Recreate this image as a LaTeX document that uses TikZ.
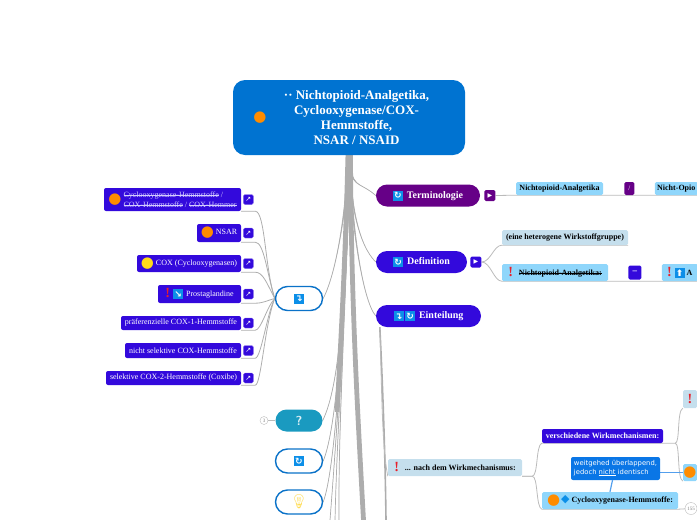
\documentclass[tikz,border=0pt]{standalone}
\usepackage{fontspec}
\setmainfont{Liberation Serif}
\newfontfamily\symfont{DejaVu Sans}
\newfontfamily\emojifont{Noto Emoji}
\usetikzlibrary{positioning,backgrounds}
\definecolor{rootblue}{HTML}{0073D1}
\definecolor{indigo}{HTML}{3309DC}
\definecolor{royal}{HTML}{660087}
\definecolor{skyfill}{HTML}{8FD6FB}
\definecolor{palefill}{HTML}{C5DFED}
\definecolor{notefill}{HTML}{0A76E6}
\definecolor{tealfill}{HTML}{1A9AC0}
\definecolor{ringblue}{HTML}{0A72C8}
\definecolor{limbgray}{HTML}{ADADAD}
\definecolor{twiggray}{HTML}{BBBBBB}
\definecolor{iconblue}{HTML}{0C8FE8}
\definecolor{dotorange}{HTML}{FF8C00}
\definecolor{dotyellow}{HTML}{FFD91A}
\definecolor{warnred}{HTML}{E8202A}
\definecolor{lavender}{HTML}{D4CCFF}
\definecolor{bulbyellow}{HTML}{FFDD55}
\newcommand{\sizedot}[2]{\textcolor{#1}{\raisebox{-.28em}{\symfont\fontsize{#2}{#2}\selectfont ●}}}
\newcommand{\orangedot}{\sizedot{dotorange}{15}}
\newcommand{\warnmark}{\textcolor{warnred}{\raisebox{-1pt}{\fontsize{14}{14}\selectfont\bfseries !}}}
\newcommand{\iconbox}[1]{{\setlength{\fboxsep}{0pt}\raisebox{-.8pt}{\colorbox{iconblue}{\makebox[10pt]{\rule[-1.6pt]{0pt}{10pt}\textcolor{white}{\symfont\fontsize{9}{9}\selectfont\bfseries #1}}}}}}
\newcommand{\strk}[1]{\leavevmode{\sbox0{#1}\rlap{\usebox0}\rule[.24em]{\wd0}{.3pt}}}
\newcommand{\limb}[4]{\filldraw[limbline] ([xshift=-#1pt]root.south) .. controls #2 and #3 .. (#4) .. controls #3 and #2 .. ([xshift=#1pt]root.south) -- cycle;}
\tikzset{
    leafbox/.style={fill=indigo, rounded corners=2pt, text=white, inner sep=0pt, font=\fontsize{8}{9.5}\selectfont, align=center},
    linkbtn/.style={fill=indigo, draw=indigo!60, rounded corners=1.5pt, text=white, inner sep=0pt, minimum width=10pt, minimum height=10pt, font=\symfont\fontsize{7}{7}\selectfont},
    playbtn/.style={text=white, rounded corners=1.5pt, inner sep=0pt, minimum width=11pt, minimum height=11pt, font=\symfont\fontsize{6}{6}\selectfont},
    mainpill/.style={rounded corners=11pt, text=white, inner sep=0pt, minimum height=22pt, font=\fontsize{10}{12}\selectfont\bfseries},
    ringpill/.style={draw=ringblue, line width=1.4pt, fill=white, rounded corners=12pt, inner sep=0pt, minimum width=47pt, minimum height=24pt},
    skybox/.style={fill=skyfill, rounded corners=1.5pt, inner sep=0pt, font=\fontsize{8}{10}\selectfont\bfseries},
    palebox/.style={fill=palefill, rounded corners=1.5pt, inner sep=0pt, font=\fontsize{8}{10}\selectfont\bfseries},
    limbline/.style={fill=limbgray, draw=limbgray, line width=.7pt},
    leafline/.style={draw=limbgray, line width=.8pt},
    twigline/.style={draw=twiggray, line width=.8pt},
    noteline/.style={draw=notefill!70, line width=1.2pt},
    badge/.style={circle, draw=twiggray, fill=white, text=gray, inner sep=0pt, font=\fontsize{5}{5}\selectfont}
}
\begin{document}
\begin{tikzpicture}[x=1pt,y=-1pt]
        \useasboundingbox (0,0) rectangle (697,520);
        \node (root) [fill=rootblue, rounded corners=12pt, text=white, inner sep=0pt, minimum width=232pt, minimum height=75pt, font=\fontsize{13}{15}\selectfont\bfseries] at (349,117.5) {\raisebox{3pt}{\orangedot}\hspace{2pt}\parbox[c]{176pt}{\centering ·· Nichtopioid-Analgetika,\\Cyclooxygenase/COX-\\Hemmstoffe,\\NSAR / NSAID}};

        \node (cyclo) [leafbox, minimum width=137pt, minimum height=23pt] at (172.5,199.5) {\orangedot\hspace{2pt}\parbox[c]{113pt}{\raggedright\color{lavender}\strk{Cyclooxygenase-Hemmstoffe} /\\\strk{COX-Hemmstoffe} / \strk{COX-Hemmer}}};
        \node (nsar) [leafbox, minimum width=44pt, minimum height=18pt] at (219,233) {\orangedot\hspace{2pt}NSAR};
        \node (cox) [leafbox, minimum width=104pt, minimum height=17pt] at (189,263.5) {\sizedot{dotyellow}{15}\hspace{2pt}COX (Cyclooxygenasen)};
        \node (prosta) [leafbox, minimum width=83pt, minimum height=18pt] at (199.5,294) {\warnmark\hspace{3pt}\iconbox{↘}\hspace{3pt}Prostaglandine};
        \node (praef) [leafbox, minimum width=120pt, minimum height=14pt] at (181,323) {präferenzielle COX-1-Hemmstoffe};
        \node (nichtsel) [leafbox, minimum width=116pt, minimum height=15pt] at (183,350.5) {nicht selektive COX-Hemmstoffe};
        \node (selekt) [leafbox, minimum width=135pt, minimum height=14pt] at (173.5,378) {selektive COX-2-Hemmstoffe (Coxibe)};

        \node (lkcyclo) [linkbtn, right=2pt of cyclo] {↗};
        \node (lknsar) [linkbtn, right=2pt of nsar] {↗};
        \node (lkcox) [linkbtn, right=2pt of cox] {↗};
        \node (lkprosta) [linkbtn, right=2pt of prosta] {↗};
        \node (lkpraef) [linkbtn, right=2pt of praef] {↗};
        \node (lknichtsel) [linkbtn, right=2pt of nichtsel] {↗};
        \node (lkselekt) [linkbtn, right=2pt of selekt] {↗};

        \node (one) [ringpill] at (299,298.5) {\iconbox{↴}};
        \node (quest) [mainpill, fill=tealfill, minimum width=47pt, text=white!85!tealfill, font=\fontsize{13}{13}\selectfont\bfseries\sffamily] at (299,420.5) {?};
        \node (sync) [ringpill] at (299,461) {\iconbox{↻}};
        \node (idea) [ringpill] at (299,502) {\textcolor{bulbyellow}{\emojifont\fontsize{14}{14}\selectfont 💡}};
        \node (qbadge) [badge, minimum size=8pt] at (264,420.5) {3};

        \node (term) [mainpill, fill=royal, minimum width=104pt] at (428,195.5) {\iconbox{↻}\hspace{4pt}Terminologie};
        \node (tbtn) [playbtn, fill=royal, right=4pt of term] {▶};
        \node (nichtanal) [skybox, minimum width=87pt, minimum height=13pt] at (559.5,188.5) {Nichtopioid-Analgetika};
        \node (slash) [playbtn, fill=royal, minimum width=10pt, minimum height=13pt, right=21pt of nichtanal, font=\fontsize{7}{7}\selectfont] {/};
        \node (nichtopio) [skybox, minimum width=43pt, minimum height=13pt, right=20pt of slash, align=left] {Nicht-Opio};

        \node (defi) [mainpill, fill=indigo, minimum width=91pt] at (421.5,262) {\iconbox{↻}\hspace{4pt}Definition};
        \node (dbtn) [playbtn, fill=indigo, right=3pt of defi] {▶};
        \node (hetero) [palebox, minimum width=126pt, minimum height=15pt] at (565,237.5) {(eine heterogene Wirkstoffgruppe)};
        \node (nichtdef) [skybox, minimum width=106pt, minimum height=17pt] at (555,272.5) {\warnmark\hspace{6pt}\strk{Nichtopioid-Analgetika:}};
        \node (dash) [playbtn, fill=indigo, minimum width=13pt, minimum height=14pt, right=20pt of nichtdef, font=\fontsize{9}{9}\selectfont\bfseries] {--};
        \node (analg) [skybox, minimum width=36pt, minimum height=17pt, right=20pt of dash, align=left] {\warnmark\hspace{3pt}\iconbox{⬆}\hspace{2pt}A};

        \node (eint) [mainpill, fill=indigo, minimum width=105pt] at (428.5,316) {\iconbox{↴}\hspace{1.5pt}\iconbox{↻}\hspace{4pt}Einteilung};

        \node (nach) [palebox, minimum width=134pt, minimum height=17pt] at (455,467.5) {\warnmark\hspace{6pt}... nach dem Wirkmechanismus:};
        \node (versch) [leafbox, minimum width=121pt, minimum height=14pt, font=\fontsize{8}{10}\selectfont\bfseries] at (602.5,436) {verschiedene Wirkmechanismen:};
        \node (cyclohemm) [skybox, minimum width=136pt, minimum height=17pt] at (610,500.5) {\orangedot\hspace{1pt}\textcolor{iconblue}{\symfont\fontsize{11}{11}\selectfont ◆}\hspace{2pt}Cyclooxygenase-Hemmstoffe:};
        \node (warnend) [palebox, minimum width=14pt, minimum height=18pt] at (690,399) {\warnmark};
        \node (dotend) [skybox, minimum width=14pt, minimum height=17pt] at (690,472.5) {\orangedot};
        \node (note) [fill=notefill, rounded corners=2pt, text=white, inner sep=0pt, minimum width=89pt, minimum height=23pt, align=left, font=\symfont\fontsize{6.8}{8.2}\selectfont] at (615.5,468.5) {weitgehed überlappend,\\jedoch \underline{nicht} identisch};
        \node (cbadge) [badge, minimum size=12pt] at (691,508.5) {155};

        \coordinate (offa) at (330,520);
        \coordinate (offb) at (335,520);
        \coordinate (offc) at (339,520);
        \coordinate (offd) at (363.5,520);
        \coordinate (offe) at (386,520);
        \coordinate (splita) at (337,412);

        \begin{scope}[on background layer]
            \limb{1.2}{(345,300)}{(340,385)}{quest.east}
            \limb{1}{(345,300)}{(338,425)}{sync.east}
            \limb{1}{(345,300)}{(337,465)}{idea.east}
            \limb{1.5}{(346,300)}{(337,430)}{offa}
            \limb{1.5}{(346,300)}{(337,430)}{offb}
            \limb{1.5}{(346,300)}{(338,430)}{offc}
            \limb{1.5}{(347,200)}{(338,270)}{one.east}
            \limb{1.5}{(351,190)}{(358,180)}{term.west}
            \limb{1.5}{(350,200)}{(358,245)}{defi.west}
            \limb{1.5}{(351,220)}{(362,300)}{eint.west}
            \draw[draw=limbgray, line width=4.5pt] ([xshift=-1.2pt]root.south) .. controls (345,270) and (340,350) .. (splita);
            \draw[draw=limbgray, line width=4.8pt] ([xshift=1.5pt]root.south) .. controls (351,300) and (358,420) .. (offd);

            \draw[leafline] (cyclo.south east) -- ++(14,0) .. controls +(10,0) and +(-10,-30) .. (one.west);
            \draw[leafline] (nsar.south east) -- ++(14,0) .. controls +(9,0) and +(-8,-25) .. (one.west);
            \draw[leafline] (cox.south east) -- ++(14,0) .. controls +(8,0) and +(-8,-15) .. (one.west);
            \draw[leafline] (prosta.south east) -- ++(14,0) .. controls +(8,0) and +(-8,2) .. (one.west);
            \draw[leafline] (praef.south east) -- ++(14,0) .. controls +(6,0) and +(-8,8) .. (one.west);
            \draw[leafline] (nichtsel.south east) -- ++(14,0) .. controls +(6,0) and +(-8,15) .. (one.west);
            \draw[leafline] (selekt.south east) -- ++(14,0) .. controls +(6,0) and +(-10,25) .. (one.west);
            \draw[twigline] (qbadge) -- (quest);

            \draw[twigline] (tbtn.east) -- (nichtanal.south west) -- (nichtopio.south east);
            \draw[twigline] (dbtn.east) .. controls +(9,0) and +(-8,0) .. (hetero.south west) -- (hetero.south east);
            \draw[twigline] (dbtn.east) .. controls +(9,0) and +(-8,0) .. (nichtdef.south west) -- (analg.south east);

            \draw[draw=limbgray, line width=1.6pt] ([xshift=4pt]eint.south west) .. controls +(2,40) and +(-1,-80) .. (offe);
            \draw[twigline] ([xshift=4pt]eint.south west) .. controls +(2,60) and +(-6,-30) .. (nach.south west);
            \draw[twigline] (nach.south east) -- ++(10,0) .. controls +(6,0) and +(-6,2) .. (versch.south west) -- (versch.south east) -- ++(12,0) coordinate (vend);
            \draw[twigline] (nach.south east) -- ++(10,0) .. controls +(6,0) and +(-6,-2) .. (cyclohemm.south west) -- (cyclohemm.south east);
            \draw[twigline] (vend) .. controls +(5,0) and +(-6,3) .. (warnend.south west);
            \draw[twigline] (vend) .. controls +(5,0) and +(-6,-3) .. (dotend.south west);
            \draw[twigline] (cyclohemm.south east) -- (cbadge);
            \draw[noteline] (note.east |- dotend.west) -- (dotend.west);
            \draw[noteline] ([xshift=-3pt]note.south) -- (cyclohemm.north);
        \end{scope}
    \end{tikzpicture}
\end{document}
